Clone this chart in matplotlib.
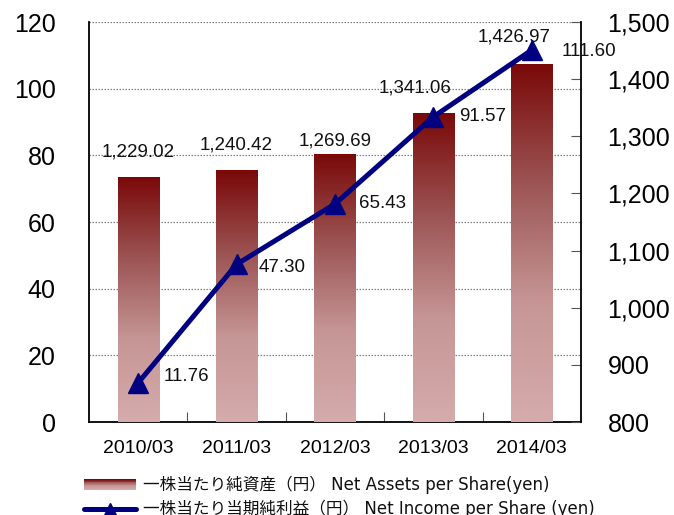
import matplotlib
matplotlib.use('Agg')
import matplotlib.pyplot as plt
import numpy as np
from matplotlib.colors import LinearSegmentedColormap
from matplotlib.legend_handler import HandlerBase
from matplotlib.patches import Rectangle
from matplotlib.lines import Line2D
from matplotlib.ticker import FuncFormatter, FixedLocator

categories = ['2010/03', '2011/03', '2012/03', '2013/03', '2014/03']
net_assets = [1229.02, 1240.42, 1269.69, 1341.06, 1426.97]
net_income = [11.76, 47.30, 65.43, 91.57, 111.60]
left_ticks = [0, 20, 40, 60, 80, 100, 120]
right_ticks = [800, 900, 1000, 1100, 1200, 1300, 1400, 1500]
label_assets = '一株当たり純資産（円） Net Assets per Share(yen)'
label_income = '一株当たり当期純利益（円） Net Income per Share (yen)'

plt.rcParams['font.family'] = ['Liberation Sans', 'Noto Sans CJK JP', 'DejaVu Sans']

NAVY = '#000080'
cmap = LinearSegmentedColormap.from_list('bar', ['#D5ABAB', '#C69696', '#9C5454', '#7A0808'])

W, H = 674, 515
fig = plt.figure(figsize=(W / 100, H / 100), dpi=100, facecolor='white')
ax_bg = fig.add_axes([89 / W, 1 - 422 / H, (581 - 89) / W, 400 / H])
ax_bar = ax_bg.twinx()
ax_line = ax_bg.twinx()

x = np.arange(len(categories))

# background axes: left scale, grid
ax_bg.set_xlim(-0.5, len(categories) - 0.5)
ax_bg.set_ylim(left_ticks[0], left_ticks[-1])
ax_bg.yaxis.set_major_locator(FixedLocator(left_ticks))
ax_bg.tick_params(axis='y', left=False, labelsize=18, pad=20.5)
ax_bg.grid(axis='y', color='#808080', linestyle=(0, (1.2, 1.2)), linewidth=0.9)
ax_bg.set_axisbelow(True)
ax_bg.set_xticks(x)
ax_bg.set_xticklabels(categories)
ax_bg.set_xticks(x[:-1] + 0.5, minor=True)
ax_bg.tick_params(axis='x', which='major', length=0, labelsize=14, pad=13)
ax_bg.tick_params(axis='x', which='minor', direction='in', length=7, width=0.8, color='#555555')
for s in ['top', 'right']:
    ax_bg.spines[s].set_visible(False)
ax_bg.spines['left'].set_linewidth(1.3)
ax_bg.spines['bottom'].set_linewidth(1.3)

# bar axes: right scale
ax_bar.set_ylim(right_ticks[0], right_ticks[-1])
ax_bar.yaxis.set_major_locator(FixedLocator(right_ticks))
ax_bar.yaxis.set_major_formatter(FuncFormatter(lambda v, p: f'{v:,.0f}'))
ax_bar.tick_params(axis='y', direction='in', length=7, width=0.8, color='#555555', labelsize=18, pad=19)
for s in ['top', 'left', 'bottom']:
    ax_bar.spines[s].set_visible(False)
ax_bar.spines['right'].set_linewidth(1.3)

bars = ax_bar.bar(x, net_assets, width=0.42, color='none', edgecolor='none')
grad = np.linspace(0, 1, 256).reshape(-1, 1)
for b in bars:
    x0 = b.get_x()
    x1 = x0 + b.get_width()
    y0 = right_ticks[0]
    y1 = b.get_height()
    im = ax_bar.imshow(grad, cmap=cmap, origin='lower', aspect='auto',
                       extent=(x0, x1, y0, y1), zorder=2)
    im.set_clip_path(b)
ax_bar.set_xlim(-0.5, len(categories) - 0.5)
ax_bar.set_ylim(right_ticks[0], right_ticks[-1])

bar_offsets = [(0, 25), (0, 25), (0, 13), (-18, 25), (-18, 27)]
for xi, v, off in zip(x, net_assets, bar_offsets):
    ax_bar.annotate(f'{v:,.2f}', (xi, v), xytext=off, textcoords='offset pixels',
                    ha='center', va='center', fontsize=13.5, color='#111111', zorder=5)

# line axes: left scale
ax_line.set_ylim(left_ticks[0], left_ticks[-1])
ax_line.set_xlim(-0.5, len(categories) - 0.5)
ax_line.yaxis.set_visible(False)
for s in ax_line.spines.values():
    s.set_visible(False)
ax_line.plot(x, net_income, color=NAVY, linewidth=3.6, marker='^', markersize=15,
             markeredgecolor=NAVY, markerfacecolor=NAVY, zorder=4)
line_offsets = [(48, 6), (46, -3), (48, 0), (49, 0), (57, -1)]
for xi, v, off in zip(x, net_income, line_offsets):
    ax_line.annotate(f'{v:.2f}', (xi, v), xytext=off, textcoords='offset pixels',
                     ha='center', va='center', fontsize=13.5, color='#111111', zorder=5)


class GradientHandler(HandlerBase):
    def create_artists(self, legend, orig_handle, xdescent, ydescent, width, height, fontsize, trans):
        arts = []
        n = 12
        h = height * 1.0
        y0 = -ydescent + (height - h) / 2
        for i in range(n):
            c = cmap(1 - i / (n - 1))
            r = Rectangle((-xdescent, y0 + h * (n - 1 - i) / n), width, h / n,
                          facecolor=c, edgecolor='none', transform=trans)
            arts.append(r)
        return arts


patch_handle = Rectangle((0, 0), 1, 1)
line_handle = Line2D([], [], color=NAVY, linewidth=3.6, marker='^', markersize=9,
                     solid_capstyle='round')
leg = fig.legend([patch_handle, line_handle], [label_assets, label_income],
                 handler_map={Rectangle: GradientHandler()},
                 loc='upper left', bbox_to_anchor=(84 / W, 1 - 476 / H),
                 frameon=False, handlelength=3.1, handletextpad=0.45,
                 prop={'family': ['DejaVu Sans', 'Noto Sans CJK JP'], 'size': 12},
                 labelspacing=0.35, borderpad=0, borderaxespad=0, numpoints=1)
for t in leg.get_texts():
    t.set_color('#111111')

fig.savefig('out.png', dpi=100, facecolor='white')
